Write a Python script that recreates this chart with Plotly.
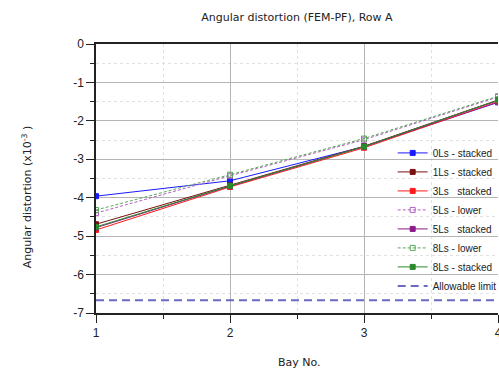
import plotly.graph_objects as go

bays = [1, 2, 3, 4]
ls0_stacked = [-3.96, -3.56, -2.67, -1.52]
ls1_stacked = [-4.69, -3.68, -2.66, -1.46]
ls3_stacked = [-4.84, -3.72, -2.70, -1.50]
ls5_lower = [-4.40, -3.43, -2.49, -1.38]
ls5_stacked = [-4.78, -3.70, -2.67, -1.47]
ls8_lower = [-4.32, -3.40, -2.46, -1.36]
ls8_stacked = [-4.76, -3.69, -2.67, -1.46]
allowable = -6.67

series = [
    ("0Ls - stacked", ls0_stacked, "#1a1aff", "solid", "square"),
    ("1Ls - stacked", ls1_stacked, "#7a1010", "solid", "square"),
    ("3Ls   stacked", ls3_stacked, "#ff1a1a", "solid", "square"),
    ("5Ls - lower", ls5_lower, "#b060c0", "3px,2px", "square-open"),
    ("5Ls   stacked", ls5_stacked, "#8a1a8a", "solid", "square"),
    ("8Ls - lower", ls8_lower, "#5aa85a", "3px,2px", "square-open"),
    ("8Ls - stacked", ls8_stacked, "#2a8a2a", "solid", "square"),
]

fig = go.Figure()
for name, vals, color, dash, sym in series:
    fig.add_trace(go.Scatter(
        x=bays, y=vals, name=name, mode="lines+markers",
        line=dict(color=color, width=1, dash=dash),
        marker=dict(symbol=sym, size=5, color=color, line=dict(color=color, width=1)),
    ))
fig.add_trace(go.Scatter(
    x=[bays[0], bays[-1]], y=[allowable, allowable], name="Allowable limit",
    mode="lines", line=dict(color="#6a6ac0", width=2, dash="8px,5px"),
))

tick_font = dict(family="Liberation Sans, Arial", size=12, color="#222")
fig.update_layout(
    width=499, height=369,
    margin=dict(l=96, r=1, t=44, b=56, autoexpand=False),
    paper_bgcolor="white", plot_bgcolor="white",
    title=dict(text="Angular distortion (FEM-PF), Row A", x=0.595, xanchor="center",
               y=0.954, yanchor="middle",
               font=dict(family="DejaVu Sans", size=11, color="#222")),
    font=dict(family="DejaVu Sans", size=11, color="#222"),
    legend=dict(x=0.738, y=0.649, xanchor="left", yanchor="top",
                bgcolor="rgba(0,0,0,0)", borderwidth=0,
                font=dict(family="Liberation Sans, Arial", size=10, color="#222"),
                itemwidth=30, tracegroupgap=0),
    showlegend=True,
)
fig.update_xaxes(
    range=[1, 4], tickvals=bays, ticktext=[str(b) for b in bays],
    automargin=False, ticklabeloverflow="allow",
    showline=True, linecolor="#222", linewidth=1.5, mirror=True,
    ticks="outside", ticklen=8, tickcolor="#222", tickfont=tick_font,
    showgrid=True, gridcolor="#b4b4b4", gridwidth=1, zeroline=False,
    minor=dict(dtick=0.5, ticks="outside", ticklen=4, tickcolor="#222",
               showgrid=True, gridcolor="#e0e0e0", griddash="dot"),
)
yvals = [0, -1, -2, -3, -4, -5, -6, -7]
fig.update_yaxes(
    range=[-7, 0], tickvals=yvals, ticktext=[str(v) for v in yvals],
    automargin=False,
    showline=True, linecolor="#222", linewidth=1.5,
    ticks="outside", ticklen=8, tickcolor="#222", tickfont=tick_font,
    showgrid=True, gridcolor="#b4b4b4", gridwidth=1, zeroline=False,
    minor=dict(dtick=0.5, ticks="outside", ticklen=4, tickcolor="#222",
               showgrid=True, gridcolor="#e0e0e0", griddash="dot"),
)
fig.add_annotation(
    text="Bay No.",
    xref="paper", yref="paper", x=0.507, y=0, yshift=-49, xanchor="center", yanchor="middle",
    showarrow=False, font=dict(family="DejaVu Sans", size=11, color="#222"),
)
fig.add_annotation(
    text="Angular distortion (x10<sup>-3</sup> )", textangle=-90,
    xref="paper", yref="paper", x=-0.172, y=0.43, xanchor="center", yanchor="middle",
    showarrow=False, font=dict(family="DejaVu Sans", size=11, color="#222"),
)
fig.write_html("out.html", config={"displayModeBar": False},
               post_script="document.body.style.margin='0';document.body.style.overflow='hidden';")
